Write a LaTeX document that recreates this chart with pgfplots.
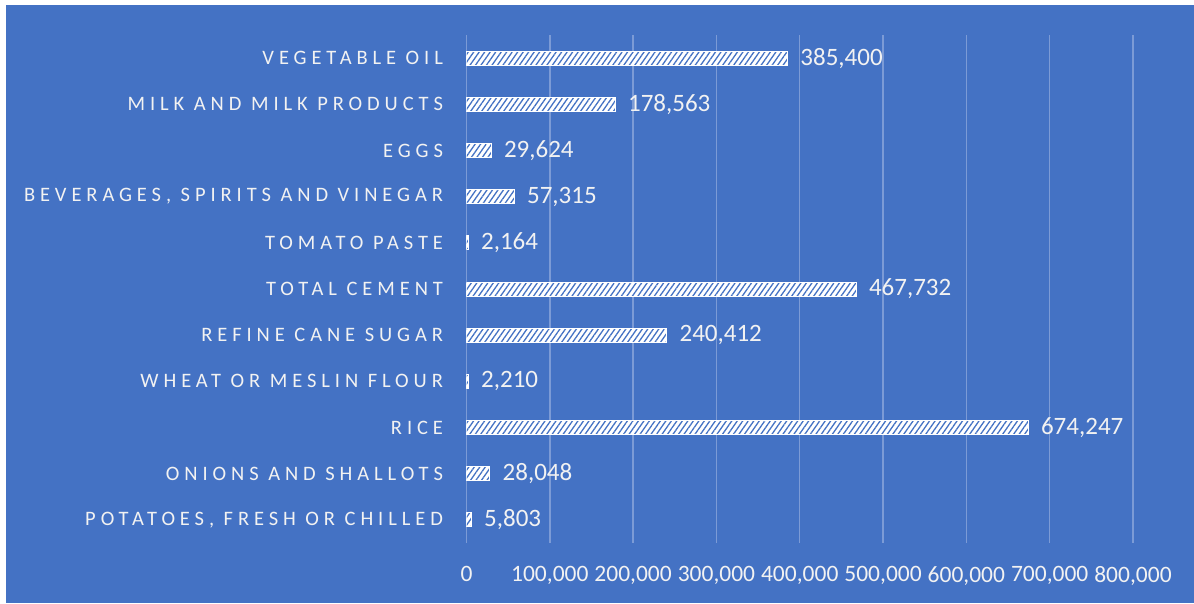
\documentclass[border=0pt]{standalone}
\usepackage{fontspec}
\setmainfont{Carlito}
\usepackage{pgfplots}
\pgfplotsset{compat=1.18}
\usetikzlibrary{patterns.meta}
\definecolor{bg}{HTML}{4472C4}
\definecolor{gridc}{HTML}{7C9BD6}
\definecolor{txt}{HTML}{F2F2F2}
\begin{document}
\begin{tikzpicture}[x=1pt,y=1pt]
\useasboundingbox (-466.5,-60) rectangle (727.5,543);
\fill[white] (-466.5,-60) rectangle (727.5,543);
\fill[bg] (-460.5,-60) rectangle (727.5,538);
\begin{axis}[
  at={(0,0)}, anchor=south west,
  scale only axis, width=666.5pt, height=508pt,
  xbar, bar width=14pt,
  xmin=0, xmax=800000, ymin=-0.5, ymax=10.5,
  enlargelimits=false,
  axis line style={draw=none},
  major tick length=0pt,
  xmajorgrids, major grid style={gridc, line width=1.5pt},
  xtick={0,100000,...,800000},
  scaled x ticks=false,
  xticklabel style={txt, font=\fontsize{23.5}{28}\selectfont, yshift=-20pt,
    /pgf/number format/.cd, fixed, 1000 sep={,}, assume math mode=true},
  ytick={0,...,10},
  yticklabels={{POTATOES, FRESH OR CHILLED}, ONIONS AND SHALLOTS, RICE, WHEAT OR MESLIN FLOUR, REFINE CANE SUGAR, TOTAL CEMENT, TOMATO PASTE, {BEVERAGES, SPIRITS AND VINEGAR}, EGGS, MILK AND MILK PRODUCTS, VEGETABLE OIL},
  yticklabel style={txt, font=\fontsize{20.5}{24}\selectfont\addfontfeatures{LetterSpace=24}, xshift=-20pt},
]
\addplot[draw=white, line width=1pt, fill=white,
  postaction={pattern={Lines[angle=55,distance=4.5pt,line width=1.3pt]}, pattern color=bg},
  point meta=x,
  nodes near coords={\pgfmathprintnumber[fixed,precision=0,1000 sep={,},assume math mode=true]{\pgfplotspointmeta}},
  nodes near coords style={txt, anchor=west, xshift=9pt, font=\fontsize{25}{29}\selectfont}]
coordinates {(5803,0) (28048,1) (674247,2) (2210,3) (240412,4) (467732,5) (2164,6) (57315,7) (29624,8) (178563,9) (385400,10)};
\end{axis}
\end{tikzpicture}
\end{document}
